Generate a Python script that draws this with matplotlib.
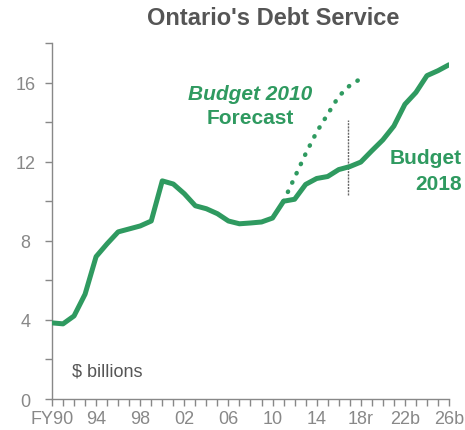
import numpy as np
import matplotlib.pyplot as plt

plt.rcParams['font.family'] = ['Liberation Sans', 'DejaVu Sans']

green = '#2f9a60'
gray = '#888888'

# Budget 2018 debt service, $ billions
years = np.arange(1990, 2027)
debt_service = [3.85, 3.8, 4.2, 5.3, 7.2, 7.85, 8.45, 8.6, 8.75, 9.0,
                11.03, 10.87, 10.38, 9.77, 9.62, 9.37, 9.0, 8.86, 8.9, 8.95,
                9.15, 10.0, 10.1, 10.85, 11.15, 11.25, 11.6, 11.75, 11.98, 12.55,
                13.1, 13.8, 14.9, 15.5, 16.35, 16.6, 16.9]

# Budget 2010 forecast (dotted)
fc_years = np.arange(2011, 2019)
forecast = [10.0, 11.2, 12.4, 13.5, 14.4, 15.3, 15.85, 16.2]

tick_years = np.arange(1990, 2027, 4)
tick_labels = ['FY90', '94', '98', '02', '06', '10', '14', '18r', '22b', '26b']

fig = plt.figure(figsize=(4.65, 4.31), dpi=100)
ax = fig.add_axes([0.1118, 0.0719, 0.8538, 0.826])

ax.plot(years, debt_service, color=green, lw=3.6, solid_capstyle='round', zorder=3)
ax.plot(fc_years, forecast, color=green, lw=3.2, linestyle=(0, (0.1, 2.2)),
        dash_capstyle='round', zorder=3)

# marker between actual and planned
ax.plot([2016.8, 2016.8], [10.3, 14.1], color='#666666', lw=1, linestyle=(0, (1.5, 0.8)), zorder=2)

ax.set_xlim(1990, 2026)
ax.set_ylim(0, 18)
ax.set_xticks(tick_years)
ax.set_xticklabels(tick_labels)
ax.set_xticks(years, minor=True)
ax.set_yticks([0, 4, 8, 12, 16])
ax.set_yticks([2, 6, 10, 14, 18], minor=True)

for s in ['top', 'right']:
    ax.spines[s].set_visible(False)
for s in ['left', 'bottom']:
    ax.spines[s].set_color(gray)
    ax.spines[s].set_linewidth(1)
ax.spines['bottom'].set_position(('data', 0))
ax.spines['bottom'].set_zorder(1)
ax.tick_params(which='both', length=5, width=1, color=gray, direction='out')
ax.tick_params(labelsize=13, labelcolor=gray, pad=3)
ax.tick_params(axis='y', pad=14)
for lab in ax.get_yticklabels():
    lab.set_horizontalalignment('center')

ax.text(1991.8, 1.2, '$ billions', fontsize=13, color='#555555')
ax.text(2008.0, 15.45, 'Budget 2010', fontsize=15, color=green, fontweight='bold',
        fontstyle='italic', ha='center', va='center')
ax.text(2008.0, 14.25, 'Forecast', fontsize=15, color=green, fontweight='bold',
        ha='center', va='center')
ax.text(2027.2, 12.2, 'Budget', fontsize=15, color=green, fontweight='bold',
        ha='right', va='center', clip_on=False)
ax.text(2027.2, 10.9, '2018', fontsize=15, color=green, fontweight='bold',
        ha='right', va='center', clip_on=False)

fig.text(0.587, 0.958, "Ontario's Debt Service", fontsize=17, fontweight='bold',
         color='#555555', ha='center', va='center')

fig.savefig('out.png', dpi=100)
